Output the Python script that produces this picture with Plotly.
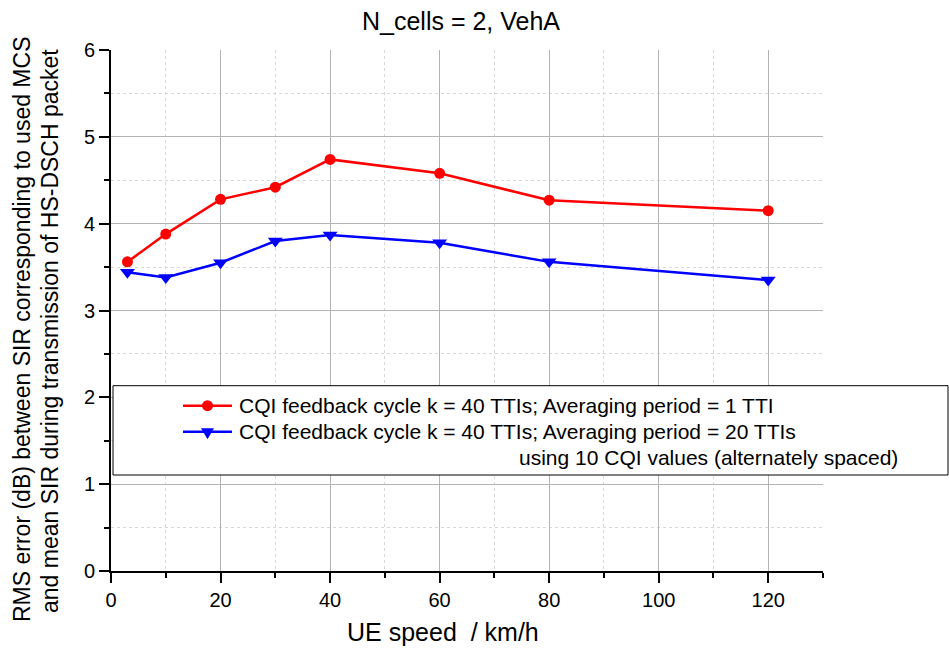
import plotly.graph_objects as go

# UE speed (km/h) and RMS SIR error (dB) for the two CQI averaging schemes
speed = [3, 10, 20, 30, 40, 60, 80, 120]
rms_avg_1tti = [3.56, 3.88, 4.28, 4.42, 4.74, 4.58, 4.27, 4.15]
rms_avg_20tti = [3.44, 3.38, 3.55, 3.80, 3.87, 3.78, 3.56, 3.35]

name_1tti = "CQI feedback cycle k = 40 TTIs; Averaging period = 1 TTI"
name_20tti = "CQI feedback cycle k = 40 TTIs; Averaging period = 20 TTIs"
name_20tti_note = "using 10 CQI values (alternately spaced)"

title_text = "N_cells = 2, VehA"
x_title = "UE speed\u00a0 / km/h"
y_title_1 = "RMS error (dB) between SIR corresponding to used MCS"
y_title_2 = "and mean SIR during transmission of HS-DSCH packet"

FONT = "Arial, Liberation Sans, sans-serif"
W, H = 949, 648
L, R, T, B = 111, 126, 50, 77
PW, PH = W - L - R, H - T - B


def px(x):
    """pixel column -> paper x"""
    return (x - L) / PW


def py(y):
    """pixel row -> paper y"""
    return (H - B - y) / PH


RED = "#ff0000"
BLUE = "#0000ff"

fig = go.Figure()
fig.add_trace(go.Scatter(
    x=speed, y=rms_avg_1tti, mode="lines+markers", name=name_1tti,
    line=dict(color=RED, width=2.5),
    marker=dict(symbol="circle", size=11, color=RED),
    showlegend=False,
))
fig.add_trace(go.Scatter(
    x=speed, y=rms_avg_20tti, mode="lines+markers", name=name_20tti,
    line=dict(color=BLUE, width=2.5),
    marker=dict(symbol="triangle-down", size=13, color=BLUE),
    showlegend=False,
))

axis_common = dict(
    showline=True, linecolor="black", linewidth=2,
    ticks="outside", ticklen=10, tickwidth=2, tickcolor="black",
    tickfont=dict(family=FONT, size=20, color="black"),
    showgrid=True, gridcolor="#b4b4b4", gridwidth=1,
    zeroline=False,
)

fig.update_xaxes(
    range=[0, 130], dtick=20, tick0=0,
    minor=dict(dtick=10, ticklen=5, tickwidth=2, tickcolor="black",
               ticks="outside", showgrid=True, gridcolor="#d8d8d8",
               griddash="dot", gridwidth=1),
    **axis_common,
)
fig.update_yaxes(
    range=[0, 6], dtick=1, tick0=0,
    minor=dict(dtick=0.5, ticklen=5, tickwidth=2, tickcolor="black",
               ticks="outside", showgrid=True, gridcolor="#d8d8d8",
               griddash="dot", gridwidth=1),
    **axis_common,
)

shapes = []
# legend frame
shapes.append(dict(type="rect", xref="paper", yref="paper",
                   x0=px(113), x1=px(948), y0=py(475), y1=py(385.7),
                   line=dict(color="black", width=1), fillcolor="white",
                   layer="above"))
# legend keys
row1, row2 = 405.7, 431.7
for row, col in ((row1, RED), (row2, BLUE)):
    shapes.append(dict(type="line", xref="paper", yref="paper",
                       x0=px(183), x1=px(232), y0=py(row), y1=py(row),
                       line=dict(color=col, width=2.5), layer="above"))
shapes.append(dict(type="circle", xref="paper", yref="paper",
                   xsizemode="pixel", ysizemode="pixel",
                   xanchor=px(207.5), yanchor=py(row1),
                   x0=-5.5, x1=5.5, y0=-5.5, y1=5.5,
                   fillcolor=RED, line=dict(color=RED, width=0), layer="above"))
shapes.append(dict(type="path", xref="paper", yref="paper",
                   xsizemode="pixel", ysizemode="pixel",
                   xanchor=px(207.5), yanchor=py(row2),
                   path="M-6.5,3.5 L6.5,3.5 L0,-7.5 Z",
                   fillcolor=BLUE, line=dict(color=BLUE, width=0), layer="above"))

annotations = [
    dict(text=name_1tti, xref="paper", yref="paper", x=px(237), y=py(row1),
         xanchor="left", yanchor="middle", showarrow=False,
         font=dict(family=FONT, size=21, color="black")),
    dict(text=name_20tti, xref="paper", yref="paper", x=px(237), y=py(row2),
         xanchor="left", yanchor="middle", showarrow=False,
         font=dict(family=FONT, size=21, color="black")),
    dict(text=name_20tti_note, xref="paper", yref="paper", x=px(900), y=py(457.5),
         xanchor="right", yanchor="middle", showarrow=False,
         font=dict(family=FONT, size=21, color="black")),
    dict(text=x_title, xref="paper", yref="paper", x=px(443), y=py(632),
         xanchor="center", yanchor="middle", showarrow=False,
         font=dict(family=FONT, size=25, color="black")),
    dict(text=y_title_1, xref="paper", yref="paper", x=px(22), y=py(330),
         xanchor="center", yanchor="middle", showarrow=False, textangle=-90,
         font=dict(family=FONT, size=23, color="black")),
    dict(text=y_title_2, xref="paper", yref="paper", x=px(50), y=py(331),
         xanchor="center", yanchor="middle", showarrow=False, textangle=-90,
         font=dict(family=FONT, size=23, color="black")),
    dict(text=title_text, xref="paper", yref="paper", x=px(461), y=py(21),
         xanchor="center", yanchor="middle", showarrow=False,
         font=dict(family=FONT, size=25, color="black")),
]

fig.update_layout(
    width=W, height=H,
    margin=dict(l=L, r=R, t=T, b=B),
    paper_bgcolor="white", plot_bgcolor="white",
    shapes=shapes, annotations=annotations,
    showlegend=False,
)

fig.write_html("out.html")
